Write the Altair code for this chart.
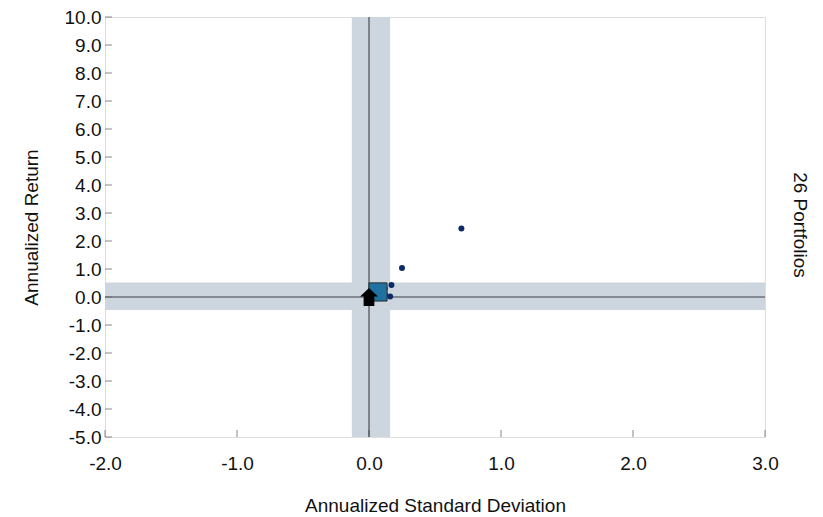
import altair as alt
import pandas as pd

# ---- data ----
x_domain = [-2.0, 3.0]
y_domain = [-5.0, 10.0]
x_ticks = [-2.0, -1.0, 0.0, 1.0, 2.0, 3.0]
y_ticks = [-5.0, -4.0, -3.0, -2.0, -1.0, 0.0, 1.0, 2.0, 3.0, 4.0,
           5.0, 6.0, 7.0, 8.0, 9.0, 10.0]

# 26 portfolios (most are hidden under the benchmark square)
port_x = [0.70, 0.25, 0.17, 0.16, 0.12, 0.10, 0.09, 0.08, 0.07, 0.06,
          0.05, 0.04, 0.11, 0.09, 0.08, 0.06, 0.05, 0.10, 0.07, 0.04,
          0.03, 0.12, 0.08, 0.06, 0.10, 0.05]
port_y = [2.45, 1.04, 0.43, 0.02, 0.30, 0.25, 0.20, 0.15, 0.10, 0.12,
          0.08, 0.05, 0.18, 0.28, 0.32, 0.22, 0.15, 0.05, 0.02, 0.20,
          0.10, 0.10, 0.24, 0.30, 0.12, 0.26]

# shaded bands (x range and y range)
vband_x = [-0.13, 0.16]
hband_y = [-0.46, 0.52]

# benchmark square and reference marker
bench_x = [0.068]
bench_y = [0.18]
ref_x = [0.0]
ref_y = [0.0]

label_text = "26 Portfolios"

FONT = "Liberation Sans, Arial, sans-serif"
W, H = 660, 420
LBL = "(datum.value < 0 ? '-' : '') + format(abs(datum.value), '.1f')"

xs = alt.Scale(domain=x_domain, nice=False, zero=False)
ys = alt.Scale(domain=y_domain, nice=False, zero=False)

x_axis = alt.Axis(values=x_ticks, labelExpr=LBL, title="Annualized Standard Deviation",
                  ticks=False, labelPadding=17, domain=False, grid=False,
                  labelFont=FONT, labelFontSize=19, labelOverlap=False,
                  labelColor="#111111", titleFont=FONT, titleFontSize=19,
                  titleFontWeight="normal", titleColor="#111111",
                  titleY=68, titleBaseline="middle", labelFlush=False)
y_axis = alt.Axis(values=y_ticks, labelExpr=LBL, title="Annualized Return",
                  ticks=False, labelPadding=4, domain=False, grid=False,
                  labelFont=FONT, labelFontSize=19, labelOverlap=False,
                  labelColor="#111111", titleFont=FONT, titleFontSize=19,
                  titleFontWeight="normal", titleColor="#111111",
                  titleX=-74, titleY=210, titleAngle=-90, titleAlign="center",
                  titleBaseline="middle", labelFlush=False)

X = lambda f: alt.X(f, scale=xs, axis=x_axis)
Y = lambda f: alt.Y(f, scale=ys, axis=y_axis)

vband = alt.Chart(pd.DataFrame({"x": [vband_x[0]], "x2": [vband_x[1]]})).mark_rect(
    color="#cdd5df").encode(x=X("x:Q"), x2="x2:Q")

hband = alt.Chart(pd.DataFrame({"y": [hband_y[0]], "y2": [hband_y[1]]})).mark_rect(
    color="#cdd5df").encode(y=Y("y:Q"), y2="y2:Q")

xtick = alt.Chart(pd.DataFrame({"x": x_ticks})).mark_tick(
    orient="vertical", size=7, thickness=1, color="#555555").encode(
    x=X("x:Q"), y=alt.value(H - 3.5))
ytick = alt.Chart(pd.DataFrame({"y": y_ticks})).mark_tick(
    orient="horizontal", size=7, thickness=1, color="#555555").encode(
    y=Y("y:Q"), x=alt.value(3.5))

vline = alt.Chart(pd.DataFrame({"x": [0.0]})).mark_rule(
    color="#333333", strokeWidth=1).encode(x=X("x:Q"))
hline = alt.Chart(pd.DataFrame({"y": [0.0]})).mark_rule(
    color="#6b6f78", strokeWidth=1.5).encode(y=Y("y:Q"))

pts = alt.Chart(pd.DataFrame({"x": port_x, "y": port_y})).mark_point(
    shape="circle", filled=True, size=36, color="#0b2a66", opacity=1).encode(
    x=X("x:Q"), y=Y("y:Q"))

bench = alt.Chart(pd.DataFrame({"x": bench_x, "y": bench_y})).mark_point(
    shape="square", filled=True, size=330, fill="#1f72a0", stroke="#2a2a2a",
    strokeWidth=1, opacity=1).encode(x=X("x:Q"), y=Y("y:Q"))

house = "M0,-1L1,-0.05L0.6,-0.05L0.6,1L-0.6,1L-0.6,-0.05L-1,-0.05Z"
ref = alt.Chart(pd.DataFrame({"x": ref_x, "y": ref_y})).mark_point(
    shape=house, filled=True, size=320, color="#000000", opacity=1).encode(
    x=X("x:Q"), y=Y("y:Q"))

side = alt.Chart(pd.DataFrame({"t": [label_text]})).mark_text(
    angle=90, align="center", baseline="middle", font=FONT, fontSize=19,
    color="#111111").encode(
    x=alt.value(W + 35), y=alt.value(208), text="t:N")

chart = alt.layer(vband, hband, xtick, ytick, vline, hline, pts, bench, ref, side).properties(
    width=W, height=H,
    autosize=alt.AutoSizeParams(type="none"),
    padding={"left": 97, "top": 9, "right": 50, "bottom": 80},
).configure_view(stroke="#8a8a8a", strokeWidth=1.5).configure(background="white")

chart.save("out.html", embed_options={"renderer": "svg", "actions": False})
